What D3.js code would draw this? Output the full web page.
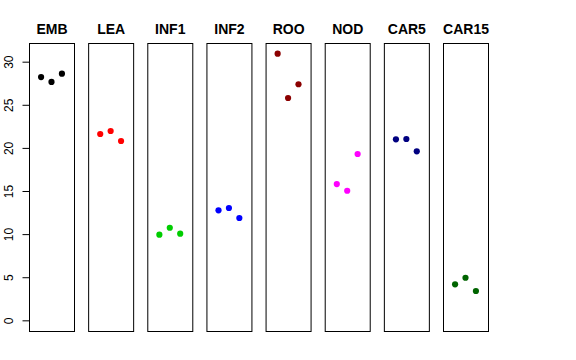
<!DOCTYPE html>
<html><head><meta charset="utf-8">
<script src="https://cdn.jsdelivr.net/npm/d3@7"></script>
<style>body{margin:0;background:#fff}svg{display:block}</style>
</head><body><div id="chart"></div>
<script>
const categories = ["EMB","LEA","INF1","INF2","ROO","NOD","CAR5","CAR15"];
const colors = ["#000000","#FF0000","#00CD00","#0000FF","#8B0000","#FF00FF","#000080","#006400"];
const EMB = [28.22, 27.65, 28.61];
const LEA = [21.61, 21.96, 20.80];
const INF1 = [9.93, 10.74, 10.05];
const INF2 = [12.76, 13.03, 11.87];
const ROO = [30.93, 25.79, 27.38];
const NOD = [15.81, 15.03, 19.29];
const CAR5 = [21.00, 21.03, 19.60];
const CAR15 = [4.18, 4.94, 3.40];
const seriesValues = [EMB, LEA, INF1, INF2, ROO, NOD, CAR5, CAR15];
const yTicks = [0, 5, 10, 15, 20, 25, 30];

const W = 576, H = 360;
const svg = d3.select("#chart").append("svg").attr("width", W).attr("height", H);

const plotTop = 43, plotBottom = 331;
const panelW = 45;
const panelX = d3.scaleLinear().domain([0, 7]).range([29, 443]);

// shared y scale: ylim c(0, max) with 4% extension
const ymax = d3.max(seriesValues.flat());
const ext = ymax * 0.04;
const y = d3.scaleLinear().domain([0 - ext, ymax + ext]).range([plotBottom, plotTop]);

categories.forEach((cat, i) => {
  const x0 = panelX(i);
  const x = d3.scaleLinear().domain([-0.16, 4.16]).range([x0, x0 + panelW]);
  const g = svg.append("g");
  g.append("rect")
    .attr("x", x0 + 0.5).attr("y", plotTop + 0.5)
    .attr("width", panelW).attr("height", plotBottom - plotTop)
    .attr("fill", "none").attr("stroke", "#000").attr("stroke-width", 1);
  g.append("text")
    .attr("x", x0 + panelW / 2 + 0.5).attr("y", 34.3)
    .attr("text-anchor", "middle")
    .attr("font-family", "Liberation Sans, Arial, sans-serif")
    .attr("font-weight", "bold").attr("font-size", 14)
    .text(cat);
  g.selectAll("circle").data(seriesValues[i]).enter().append("circle")
    .attr("cx", (d, j) => x(j + 1))
    .attr("cy", d => y(d))
    .attr("r", 3.1)
    .attr("fill", colors[i]);
});

// y axis
const axis = d3.axisLeft(y).tickValues(yTicks).tickSize(7).tickPadding(0);
const ag = svg.append("g").attr("transform", "translate(29.5,0)").call(axis);
ag.select(".domain").attr("d", `M0,${y(0)}V${y(30)}`).attr("stroke", "#000");
ag.selectAll(".tick line").attr("stroke", "#000");
ag.selectAll(".tick text")
  .attr("font-family", "Liberation Sans, Arial, sans-serif")
  .attr("font-size", 12).attr("fill", "#000")
  .attr("text-anchor", "middle")
  .attr("x", null).attr("dy", null)
  .attr("transform", "translate(-16.5,0) rotate(-90)");
</script></body></html>
